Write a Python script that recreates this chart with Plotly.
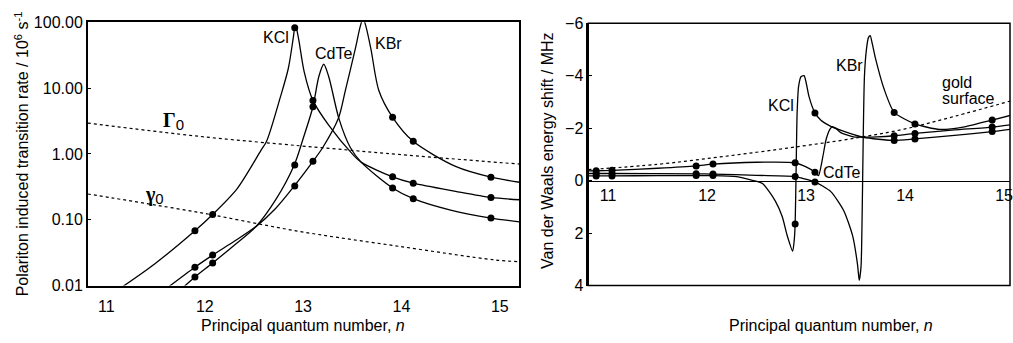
import plotly.graph_objects as go

# ---------------- Left panel data (transition rate, 10^6 s^-1) ----------------
dot_n_left = [11.90, 12.08, 12.915, 13.10, 13.91, 14.12, 14.91]
kcl_dots_left = [0.068, 0.12, 82.8, 6.5, 0.448, 0.359, 0.218]
cdte_dots_left = [0.0135, 0.022, 0.68, 5.2, 0.304, 0.209, 0.106]
kbr_dots_left = [0.019, 0.029, 0.325, 0.77, 3.6, 1.55, 0.443]

kcl_n_left = [11.15, 11.49, 11.90, 12.08, 12.33, 12.57, 12.63, 12.77, 12.85, 12.90, 12.915,
               12.925, 12.94, 12.96, 13.01, 13.10, 13.26, 13.50, 13.59, 13.91, 14.12, 14.55, 14.91, 15.20]
kcl_v_left = [0.0093, 0.0213, 0.068, 0.12, 0.297, 1.12, 1.57, 7.4, 20, 58, 82.8,
              88, 72, 50, 18, 6.5, 2.73, 1.0, 0.75, 0.448, 0.359, 0.27, 0.218, 0.201]

cdte_n_left = [11.76, 11.90, 12.08, 12.30, 12.52, 12.72, 12.91, 13.00, 13.10, 13.16, 13.21,
               13.26, 13.365, 13.48, 13.59, 13.91, 14.12, 14.50, 14.91, 15.20]
cdte_v_left = [0.0088, 0.0135, 0.022, 0.041, 0.0785, 0.2, 0.68, 1.7, 5.2, 15, 23,
               15, 3.4, 1.25, 0.75, 0.304, 0.209, 0.14, 0.106, 0.093]

kbr_n_left = [11.60, 11.90, 12.08, 12.30, 12.52, 12.72, 12.91, 13.10, 13.20, 13.36, 13.43,
              13.53, 13.58, 13.61, 13.64, 13.69, 13.77, 13.91, 14.12, 14.55, 14.91, 15.20]
kbr_v_left = [0.0088, 0.019, 0.029, 0.047, 0.0785, 0.148, 0.325, 0.77, 1.25, 3.5, 9.2,
              39, 85, 115, 85, 39, 9.2, 3.6, 1.55, 0.645, 0.443, 0.371]

Gamma0_n = [10.81, 11.94, 12.96, 13.53, 13.97, 15.20]
Gamma0_v = [2.94, 1.85, 1.33, 1.12, 0.98, 0.70]
gamma0_n = [10.81, 11.07, 11.94, 12.96, 13.97, 14.95, 15.20]
gamma0_v = [0.246, 0.213, 0.129, 0.0665, 0.0395, 0.0245, 0.023]

left_ytickvals = [0.01, 0.1, 1, 10, 100]
left_yticktext = ["0.01", "0.10", "1.00", "10.00", "100.00"]
xtickvals = [11, 12, 13, 14, 15]

# ---------------- Right panel data (Van der Waals shift, MHz) ----------------
dot_n_right = [10.88, 11.04, 11.89, 12.06, 12.89, 13.09, 13.89, 14.10, 14.88]
cdte_dots_right = [-0.375, -0.39, -0.56, -0.63, -0.68, -0.32, -1.71, -1.80, -2.04]
kcl_dots_right = [-0.18, -0.18, -0.19, -0.19, 1.65, -2.58, -1.53, -1.59, -1.87]
kbr_dots_right = [-0.27, -0.27, -0.26, -0.25, -0.16, 0.05, -2.60, -2.16, -2.31]

cdte_n_right = [10.80, 10.88, 11.04, 11.50, 11.89, 12.06, 12.50, 12.89, 13.00, 13.09, 13.125,
                13.17, 13.20, 13.24, 13.265, 13.30, 13.35, 13.48, 13.72, 13.89, 14.10, 14.50, 14.88, 15.07]
cdte_y_right = [-0.37, -0.375, -0.39, -0.47, -0.56, -0.63, -0.70, -0.68, -0.52, -0.32, -0.19,
                -0.92, -1.53, -1.95, -2.06, -2.00, -1.83, -1.67, -1.67, -1.71, -1.80, -1.93, -2.04, -2.13]

kcl_n_right = [10.80, 10.88, 11.04, 11.50, 11.89, 12.06, 12.30, 12.45, 12.56, 12.69, 12.76, 12.81,
               12.865, 12.88, 12.89, 12.90, 12.91, 12.925, 12.95, 12.98, 13.00, 13.03, 13.09, 13.15,
               13.25, 13.42, 13.58, 13.89, 14.10, 14.50, 14.88, 15.07]
kcl_y_right = [-0.18, -0.18, -0.18, -0.19, -0.19, -0.19, -0.15, -0.02, 0.11, 0.78, 1.38, 2.10,
               2.69, 2.30, 1.65, -0.50, -2.60, -3.60, -3.97, -4.00, -3.75, -3.20, -2.58, -2.30,
               -2.07, -1.83, -1.65, -1.53, -1.59, -1.72, -1.87, -1.96]

kbr_n_right = [10.80, 10.88, 11.04, 11.89, 12.06, 12.50, 12.89, 12.95, 13.09, 13.25, 13.38, 13.47,
               13.52, 13.537, 13.555, 13.567, 13.578, 13.59, 13.61, 13.63, 13.648, 13.67, 13.70,
               13.79, 13.89, 14.10, 14.35, 14.60, 14.88, 15.07]
kbr_y_right = [-0.27, -0.27, -0.27, -0.26, -0.25, -0.20, -0.16, -0.10, 0.05, 0.42, 1.14, 2.10,
               3.20, 3.80, 3.30, 1.20, -1.80, -4.00, -5.00, -5.45, -5.53, -5.20, -4.68,
               -3.47, -2.60, -2.16, -1.95, -2.05, -2.31, -2.49]

gold_n = [10.80, 11.50, 12.04, 12.50, 12.89, 13.50, 14.00, 14.50, 15.07]
gold_y = [-0.42, -0.62, -0.86, -1.08, -1.28, -1.62, -1.97, -2.45, -3.04]

right_ytickvals = [-6, -4, -2, 0, 2, 4]
right_yticktext = ["\u22126", "\u22124", "\u22122", "0", "2", "4"]

# ---------------- Figure ----------------
W, H = 1013, 343
FONT = "Liberation Sans, Arial, sans-serif"
BLACK = "#000000"

def px_x(p):
    return p / W

def px_y(p):
    return 1 - p / H

fig = go.Figure()

line_style = dict(color=BLACK, width=1.3)
marker_style = dict(color=BLACK, size=7)

# left curves
for n, v in [(kcl_n_left, kcl_v_left), (cdte_n_left, cdte_v_left), (kbr_n_left, kbr_v_left)]:
    fig.add_trace(go.Scatter(x=n, y=v, mode="lines", line=dict(**line_style, shape="spline", smoothing=0.8),
                             xaxis="x", yaxis="y", showlegend=False, hoverinfo="skip"))
for v in [kcl_dots_left, cdte_dots_left, kbr_dots_left]:
    fig.add_trace(go.Scatter(x=dot_n_left, y=v, mode="markers", marker=marker_style,
                             xaxis="x", yaxis="y", showlegend=False, cliponaxis=False))
for n, v in [(Gamma0_n, Gamma0_v), (gamma0_n, gamma0_v)]:
    fig.add_trace(go.Scatter(x=n, y=v, mode="lines", line=dict(color=BLACK, width=1.2, dash="dot", shape="spline"),
                             xaxis="x", yaxis="y", showlegend=False))

# right curves
for n, v in [(cdte_n_right, cdte_y_right), (kcl_n_right, kcl_y_right), (kbr_n_right, kbr_y_right)]:
    fig.add_trace(go.Scatter(x=n, y=v, mode="lines", line=dict(**line_style, shape="spline", smoothing=0.6),
                             xaxis="x2", yaxis="y2", showlegend=False))
for v in [cdte_dots_right, kcl_dots_right, kbr_dots_right]:
    fig.add_trace(go.Scatter(x=dot_n_right, y=v, mode="markers", marker=marker_style,
                             xaxis="x2", yaxis="y2", showlegend=False, cliponaxis=False))
fig.add_trace(go.Scatter(x=gold_n, y=gold_y, mode="lines", line=dict(color=BLACK, width=1.2, dash="dot", shape="spline"),
                         xaxis="x2", yaxis="y2", showlegend=False))

ydom = [px_y(292), px_y(15)]
ydom2 = [px_y(292), px_y(16)]
zero_pos = ydom2[0] + 0.4 * (ydom2[1] - ydom2[0])

fig.update_layout(
    width=W, height=H,
    margin=dict(l=0, r=0, t=0, b=0),
    paper_bgcolor="white", plot_bgcolor="white",
    font=dict(family=FONT, size=16, color=BLACK),
    xaxis=dict(domain=[px_x(88), px_x(521)], range=[10.81, 15.2], tickvals=xtickvals,
               showline=True, linecolor=BLACK, linewidth=1.5, mirror=True, ticks="",
               showgrid=False, zeroline=False, anchor="y", ticklabelstandoff=6),
    yaxis=dict(domain=ydom, type="log", range=[-2, 2], tickvals=left_ytickvals, ticktext=left_yticktext,
               showline=True, linecolor=BLACK, linewidth=1.5, mirror=True, ticks="inside", ticklen=4,
               tickcolor=BLACK, showgrid=False, zeroline=False, anchor="x"),
    xaxis2=dict(domain=[px_x(590), 1.0], range=[10.8, 15.06], tickvals=xtickvals,
                showline=True, linecolor=BLACK, linewidth=1.2, ticks="", showgrid=False, zeroline=False,
                anchor="free", position=zero_pos, ticklabeloverflow="allow"),
    yaxis2=dict(domain=ydom2, range=[4, -6], tickvals=right_ytickvals, ticktext=right_yticktext,
                showline=True, linecolor=BLACK, linewidth=1.5, ticks="inside", ticklen=4, tickcolor=BLACK,
                showgrid=False, zeroline=False, anchor="x2"),
    shapes=[dict(type="rect", xref="x2 domain", yref="y2 domain", x0=0, x1=1, y0=0, y1=1,
                 line=dict(color=BLACK, width=1.5))],
)

def label(text, x, y, xanchor="center", **kw):
    return dict(text=text, x=px_x(x), y=px_y(y), xref="paper", yref="paper", showarrow=False,
                xanchor=xanchor, yanchor="middle", **kw)

ann = []
# axis titles
ann.append(label("Principal quantum number, <i>n</i>", 304, 334))
ann.append(label("Principal quantum number, <i>n</i>", 833, 334))
ann.append(label("Polariton induced transition rate / 10<sup>6</sup> s<sup>-1</sup>", 22, 153, textangle=-90))
ann.append(label("Van der Waals energy shift / MHz", 549, 150, textangle=-90))
# left labels
for t, x, y in [("KCl", 277, 31), ("CdTe", 334, 47.5), ("KBr", 390, 37)]:
    ann.append(label(t, x, y))
greek = ('<span style="font-family:Liberation Serif, Times New Roman, serif; font-size:20px"><b>{}</b></span>'
         '<sub><span style="font-size:15px">0</span></sub>')
ann.append(label(greek.format("\u0393"), 174, 119))
ann.append(label(greek.format("\u03b3"), 155, 197))
# right labels
for t, x, y in [("KCl", 783, 103), ("KBr", 852, 60), ("CdTe", 844, 173)]:
    ann.append(label(t, x, y))
ann.append(label("gold", 943, 78, xanchor="left"))
ann.append(label("surface", 943, 95, xanchor="left"))
fig.update_layout(annotations=ann)

fig.write_html("out.html")
